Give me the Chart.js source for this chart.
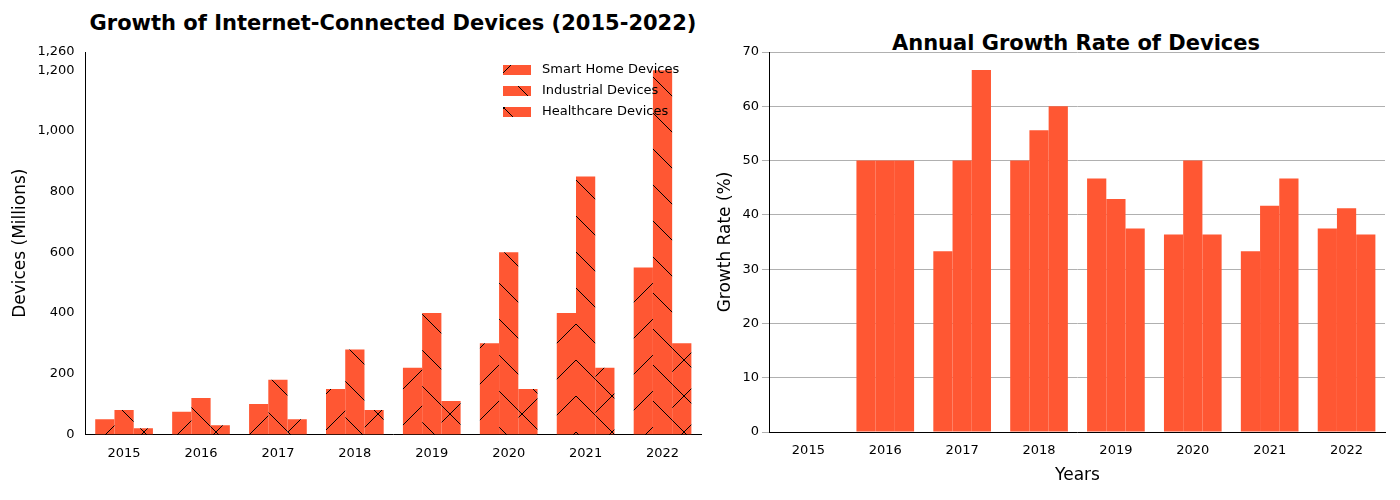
<!DOCTYPE html>
<html>
<head>
<meta charset="utf-8">
<script src="https://cdn.jsdelivr.net/npm/chart.js@4"></script>
<style>
  body { margin: 0; background: #fff; font-family: "DejaVu Sans", sans-serif; }
  #wrap { position: relative; width: 1400px; height: 500px; }
  .box { position: absolute; top: 0; height: 500px; }
  .ttl { position: absolute; font-weight: bold; color: #000; white-space: nowrap; transform: translateX(-50%); }
</style>
</head>
<body>
<div id="wrap">
  <div class="ttl" style="left:393px; top:11px; font-size:21px;">Growth of Internet-Connected Devices (2015-2022)</div>
  <div class="ttl" style="left:1076px; top:31px; font-size:21px;">Annual Growth Rate of Devices</div>
  <div class="box" style="left:0; width:705px;"><canvas id="left" width="705" height="500"></canvas></div>
  <div class="box" style="left:705px; width:695px;"><canvas id="right" width="695" height="500"></canvas></div>
</div>
<script>
'use strict';

const years = ['2015', '2016', '2017', '2018', '2019', '2020', '2021', '2022'];
const seriesNames = ['Smart Home Devices', 'Industrial Devices', 'Healthcare Devices'];
const smartHome = [50, 75, 100, 150, 220, 300, 400, 550];
const industrial = [80, 120, 180, 280, 400, 600, 850, 1200];
const healthcare = [20, 30, 50, 80, 110, 150, 220, 300];
const smartHomeGrowth = [0, 50, 33.3, 50, 46.7, 36.4, 33.3, 37.5];
const industrialGrowth = [0, 50, 50, 55.6, 42.9, 50, 41.7, 41.2];
const healthcareGrowth = [0, 50, 66.7, 60, 37.5, 36.4, 46.7, 36.4];

const barColor = '#FF5733';
Chart.defaults.font.family = '"DejaVu Sans", sans-serif';
Chart.defaults.color = '#000';
Chart.defaults.animation = false;

// hatch patterns like matplotlib's '/', '\\', 'x'
function makeHatch(kind) {
  let c = document.createElement('canvas');
  let s = 36;
  c.width = s; c.height = s;
  let g = c.getContext('2d');
  g.fillStyle = barColor;
  g.fillRect(0, 0, s, s);
  g.strokeStyle = '#000';
  g.lineWidth = 1;
  g.beginPath();
  if (kind === '/' || kind === 'x') {
    g.moveTo(0, s); g.lineTo(s, 0);
    g.moveTo(-2, 2); g.lineTo(2, -2);
    g.moveTo(s - 2, s + 2); g.lineTo(s + 2, s - 2);
  }
  if (kind === '\\' || kind === 'x') {
    g.moveTo(0, 0); g.lineTo(s, s);
    g.moveTo(s - 2, -2); g.lineTo(s + 2, 2);
    g.moveTo(-2, s - 2); g.lineTo(2, s + 2);
  }
  g.stroke();
  return g.createPattern(c, 'repeat');
}
const hatches = [makeHatch('/'), makeHatch('\\'), makeHatch('x')];

// legend drawn inside plot, upper right, stacked
const innerLegend = {
  id: 'innerLegend',
  afterDraw(chart) {
    let ctx = chart.ctx;
    let a = chart.chartArea;
    ctx.save();
    ctx.font = '13px "DejaVu Sans"';
    ctx.textBaseline = 'middle';
    let x = a.right - 198;
    for (let i = 0; i < seriesNames.length; i++) {
      let y = a.top + 18 + i * 21;
      ctx.fillStyle = hatches[i];
      ctx.fillRect(x, y - 5, 28, 10);
      ctx.fillStyle = '#000';
      ctx.fillText(seriesNames[i], x + 39, y);
    }
    ctx.restore();
  }
};

const frame = { display: true, color: '#000', lineWidth: 1 };

new Chart(document.getElementById('left'), {
  type: 'bar',
  data: {
    labels: years,
    datasets: [
      { label: seriesNames[0], data: smartHome, backgroundColor: hatches[0] },
      { label: seriesNames[1], data: industrial, backgroundColor: hatches[1] },
      { label: seriesNames[2], data: healthcare, backgroundColor: hatches[2] }
    ]
  },
  options: {
    responsive: false,
    devicePixelRatio: 1,
    categoryPercentage: 0.75,
    barPercentage: 1,
    layout: { padding: { top: 52, right: 4, bottom: 36, left: 6 } },
    plugins: { legend: { display: false }, tooltip: { enabled: false } },
    scales: {
      x: {
        grid: { display: false },
        border: frame,
        ticks: { font: { size: 13 }, maxRotation: 0 }
      },
      y: {
        min: 0, max: 1260,
        grid: { display: false },
        border: frame,
        ticks: { stepSize: 200, font: { size: 13 } },
        title: { display: true, text: 'Devices (Millions)', font: { size: 17 } }
      }
    }
  },
  plugins: [innerLegend]
});

new Chart(document.getElementById('right'), {
  type: 'bar',
  data: {
    labels: years,
    datasets: [
      { label: seriesNames[0], data: smartHomeGrowth, backgroundColor: barColor },
      { label: seriesNames[1], data: industrialGrowth, backgroundColor: barColor },
      { label: seriesNames[2], data: healthcareGrowth, backgroundColor: barColor }
    ]
  },
  options: {
    responsive: false,
    devicePixelRatio: 1,
    categoryPercentage: 0.75,
    barPercentage: 1,
    layout: { padding: { top: 52, right: 15, bottom: 10, left: 6 } },
    plugins: { legend: { display: false }, tooltip: { enabled: false } },
    scales: {
      x: {
        grid: { display: false },
        border: frame,
        ticks: { font: { size: 13 }, maxRotation: 0 },
        title: { display: true, text: 'Years', font: { size: 17 } }
      },
      y: {
        min: 0, max: 70,
        grid: { color: '#b0b0b0' },
        border: frame,
        ticks: { stepSize: 10, font: { size: 13 } },
        title: { display: true, text: 'Growth Rate (%)', font: { size: 17 } }
      }
    }
  }
});
</script>
</body>
</html>
